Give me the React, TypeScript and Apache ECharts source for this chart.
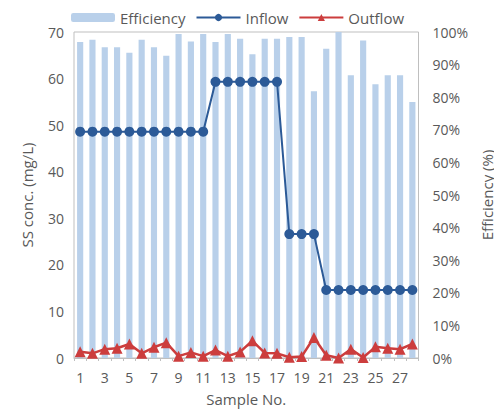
import React, { useEffect, useRef } from "react";
import * as echarts from "echarts";

const samples = Array.from({ length: 28 }, (_, i) => String(i + 1));
const efficiency = [96.9, 97.6, 95.3, 95.3, 93.6, 97.6, 95.3, 92.7, 99.4, 97.1, 99.4, 96.9, 99.4, 97.9, 93.2, 97.9, 97.9, 98.5, 98.5, 81.8, 94.9, 100, 86.7, 97.4, 84.0, 86.7, 86.7, 78.5];
const inflow = [48.6, 48.6, 48.6, 48.6, 48.6, 48.6, 48.6, 48.6, 48.6, 48.6, 48.6, 59.3, 59.3, 59.3, 59.3, 59.3, 59.3, 26.6, 26.6, 26.6, 14.6, 14.6, 14.6, 14.6, 14.6, 14.6, 14.6, 14.6];
const outflow = [1.35, 1.0, 1.9, 2.1, 3.0, 1.0, 2.3, 3.3, 0.4, 1.2, 0.4, 1.7, 0.4, 1.3, 3.7, 1.1, 1.0, 0.15, 0.3, 4.4, 0.6, 0.0, 1.9, 0.1, 2.4, 2.1, 1.9, 3.0];

const FONT = "'Open Sans', 'Noto Sans', sans-serif";
const GRAY = "#595959";

export default function App() {
  const ref = useRef<HTMLDivElement>(null);
  useEffect(() => {
    if (!ref.current) return;
    const chart = echarts.init(ref.current, null, { renderer: "svg" });
    chart.setOption({
      animation: false,
      backgroundColor: "#ffffff",
      textStyle: { fontFamily: FONT, color: GRAY },
      legend: {
        top: 5,
        left: 66,
        itemWidth: 44,
        itemHeight: 9,
        itemGap: 10,
        textStyle: { fontSize: 15, color: GRAY, fontFamily: FONT },
        data: ["Efficiency", "Inflow", "Outflow"],
      },
      grid: {
        left: 74,
        right: 81,
        top: 32,
        bottom: 61,
        show: true,
        borderColor: "#bfbfbf",
        borderWidth: 1,
      },
      xAxis: {
        type: "category",
        data: samples,
        boundaryGap: true,
        name: "Sample No.",
        nameLocation: "middle",
        nameGap: 33,
        nameTextStyle: { fontSize: 15, color: GRAY },
        axisLine: { show: true, lineStyle: { color: "#bfbfbf" } },
        axisTick: { show: true, interval: 0, length: 3, inside: false, lineStyle: { color: "#bfbfbf" } },
        axisLabel: { interval: 1, fontSize: 14, color: GRAY, margin: 12 },
      },
      yAxis: [
        {
          type: "value",
          min: 0,
          max: 70,
          interval: 10,
          name: "SS conc. (mg/L)",
          nameLocation: "middle",
          nameGap: 40,
          nameTextStyle: { fontSize: 15, color: GRAY },
          axisLine: { show: false },
          axisTick: { show: false },
          splitLine: { show: false },
          axisLabel: { fontSize: 14, color: GRAY, margin: 10 },
        },
        {
          type: "value",
          min: 0,
          max: 100,
          interval: 10,
          name: "Efficiency (%)",
          nameLocation: "middle",
          nameGap: 58,
          nameRotate: 90,
          nameTextStyle: { fontSize: 15, color: GRAY },
          axisLine: { show: false },
          axisTick: { show: false },
          splitLine: { show: false },
          axisLabel: { fontSize: 14, color: GRAY, margin: 14, formatter: "{value}%" },
        },
      ],
      series: [
        {
          name: "Efficiency",
          type: "bar",
          yAxisIndex: 1,
          data: efficiency,
          barWidth: "50%",
          itemStyle: { color: "#b9d0ea" },
        },
        {
          name: "Inflow",
          type: "line",
          yAxisIndex: 0,
          data: inflow,
          symbol: "circle",
          symbolSize: 10,
          showAllSymbol: true,
          lineStyle: { color: "#2c5a97", width: 2 },
          itemStyle: { color: "#2c5a97" },
        },
        {
          name: "Outflow",
          type: "line",
          yAxisIndex: 0,
          data: outflow,
          symbol: "triangle",
          symbolSize: 11,
          showAllSymbol: true,
          lineStyle: { color: "#cc3d3d", width: 2.5 },
          itemStyle: { color: "#cc3d3d" },
        },
      ],
    });
    return () => chart.dispose();
  }, []);
  return <div ref={ref} style={{ width: 502, height: 419, margin: -8 }} />;
}
